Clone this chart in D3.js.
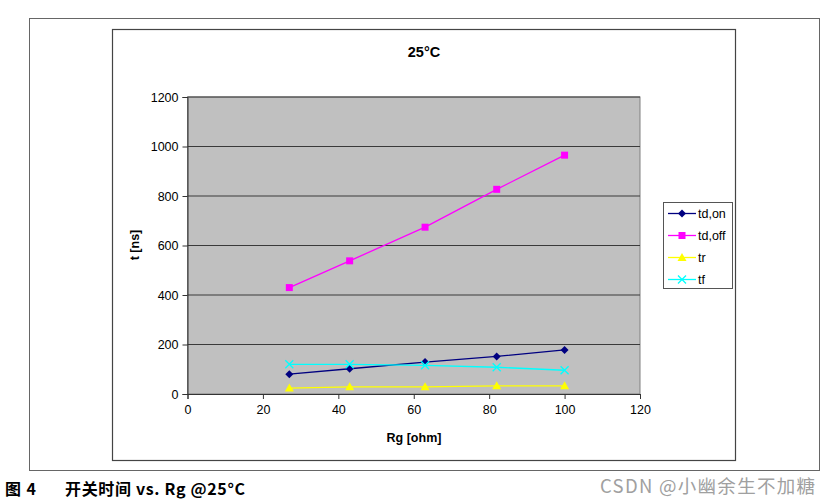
<!DOCTYPE html>
<html><head><meta charset="utf-8">
<script src="https://cdn.jsdelivr.net/npm/d3@7"></script>
<style>body{margin:0;background:#fff}svg{display:block}</style>
</head><body>
<svg id="c" width="830" height="503"></svg>
<script>
const rg = [27, 43, 63, 82, 100];
const tdOn = [80, 102, 129, 152, 178];
const tdOff = [430, 538, 674, 827, 965];
const tr = [24, 29, 29, 33, 33];
const tf = [120, 120, 116, 108, 96];
const seriesNames = ["td,on", "td,off", "tr", "tf"];
const xTicks = [0, 20, 40, 60, 80, 100, 120];
const yTicks = [0, 200, 400, 600, 800, 1000, 1200];

const series = [
  {name: seriesNames[0], values: tdOn, color: "#000080", marker: "diamond"},
  {name: seriesNames[1], values: tdOff, color: "#FF00FF", marker: "square"},
  {name: seriesNames[2], values: tr, color: "#FFFF00", marker: "triangle"},
  {name: seriesNames[3], values: tf, color: "#00FFFF", marker: "x"}
];

const svg = d3.select("#c");
const font = "Arial, 'Liberation Sans', sans-serif";

// outer frame
svg.append("rect").attr("x", 29.5).attr("y", 18.5).attr("width", 790).attr("height", 452)
  .attr("fill", "none").attr("stroke", "#666").attr("stroke-width", 1);
// inner chart frame
svg.append("rect").attr("x", 112.5).attr("y", 29.5).attr("width", 623).attr("height", 431)
  .attr("fill", "none").attr("stroke", "#444").attr("stroke-width", 1.2);

const L = 187.5, R = 640, T = 97, B = 394;
const x = d3.scaleLinear().domain([0, 120]).range([L, R]);
const y = d3.scaleLinear().domain([0, 1200]).range([B, T]);

svg.append("rect").attr("x", L).attr("y", T).attr("width", R - L).attr("height", B - T)
  .attr("fill", "#C0C0C0").attr("stroke", "#808080").attr("stroke-width", 1);

// grid
svg.append("g").selectAll("line").data(yTicks.filter(d => d > 0)).join("line")
  .attr("x1", L).attr("x2", R).attr("y1", d => y(d)).attr("y2", d => y(d))
  .attr("stroke", "#3a3a3a").attr("stroke-width", 1);

// axes
const yAxis = svg.append("g").attr("transform", `translate(${L},0)`)
  .call(d3.axisLeft(y).tickValues(yTicks).tickSize(5).tickPadding(4).tickFormat(d3.format("d")));
const xAxis = svg.append("g").attr("transform", `translate(0,${B})`)
  .call(d3.axisBottom(x).tickValues(xTicks).tickSize(5).tickPadding(6).tickFormat(d3.format("d")));
[yAxis, xAxis].forEach(a => {
  a.select(".domain").attr("stroke", "#333");
  a.selectAll(".tick line").attr("stroke", "#333");
  a.selectAll("text").attr("font-family", font).attr("font-size", 12.5).attr("fill", "#000");
});

// lines and markers
const line = d3.line().x((d, i) => x(rg[i])).y(d => y(d));
function drawMarker(g, type, color, cx, cy) {
  if (type === "diamond") {
    g.append("path").attr("d", `M${cx},${cy-4}L${cx+4},${cy}L${cx},${cy+4}L${cx-4},${cy}Z`).attr("fill", color);
  } else if (type === "square") {
    g.append("rect").attr("x", cx - 3.5).attr("y", cy - 3.5).attr("width", 7).attr("height", 7).attr("fill", color);
  } else if (type === "triangle") {
    g.append("path").attr("d", `M${cx},${cy-4.5}L${cx+4.5},${cy+3.5}L${cx-4.5},${cy+3.5}Z`).attr("fill", color);
  } else {
    g.append("path").attr("d", `M${cx-4},${cy-4}L${cx+4},${cy+4}M${cx-4},${cy+4}L${cx+4},${cy-4}`)
      .attr("stroke", color).attr("stroke-width", 1.3).attr("fill", "none");
  }
}
series.forEach(s => {
  const g = svg.append("g");
  g.append("path").attr("d", line(s.values)).attr("fill", "none").attr("stroke", s.color).attr("stroke-width", 1.3);
  s.values.forEach((v, i) => drawMarker(g, s.marker, s.color, x(rg[i]), y(v)));
});

// title
svg.append("text").attr("x", 424).attr("y", 57).attr("text-anchor", "middle")
  .attr("font-family", font).attr("font-weight", "bold").attr("font-size", 14.5).text("25°C");
// axis titles
svg.append("text").attr("transform", "translate(139,245) rotate(-90)").attr("text-anchor", "middle")
  .attr("font-family", font).attr("font-weight", "bold").attr("font-size", 12.5).text("t [ns]");
svg.append("text").attr("x", 414).attr("y", 442).attr("text-anchor", "middle")
  .attr("font-family", font).attr("font-weight", "bold").attr("font-size", 12.5).text("Rg [ohm]");

// legend
const lg = svg.append("g");
lg.append("rect").attr("x", 663.5).attr("y", 202.5).attr("width", 69).attr("height", 86)
  .attr("fill", "#fff").attr("stroke", "#555").attr("stroke-width", 1);
series.forEach((s, i) => {
  const cy = 213.5 + i * 22;
  lg.append("line").attr("x1", 668).attr("x2", 696).attr("y1", cy).attr("y2", cy)
    .attr("stroke", s.color).attr("stroke-width", 1.3);
  drawMarker(lg, s.marker, s.color, 682, cy);
  lg.append("text").attr("x", 698).attr("y", cy + 4.5).attr("font-family", font)
    .attr("font-size", 12.5).text(s.name);
});

// caption
const cjk = "'Noto Sans CJK SC', sans-serif";
svg.append("text").attr("x", 5).attr("y", 495).attr("font-family", cjk)
  .attr("font-weight", "bold").attr("font-size", 16).attr("textLength", 31).text("图 4");
svg.append("text").attr("x", 65).attr("y", 495).attr("font-family", cjk)
  .attr("font-weight", "bold").attr("font-size", 16).attr("textLength", 180).text("开关时间 vs. Rg @25°C");
svg.append("text").attr("x", 600).attr("y", 493).attr("font-family", cjk)
  .attr("font-size", 18.5).attr("fill", "#a0a0a0").attr("textLength", 215)
  .text("CSDN @小幽余生不加糖");
</script>
</body></html>
